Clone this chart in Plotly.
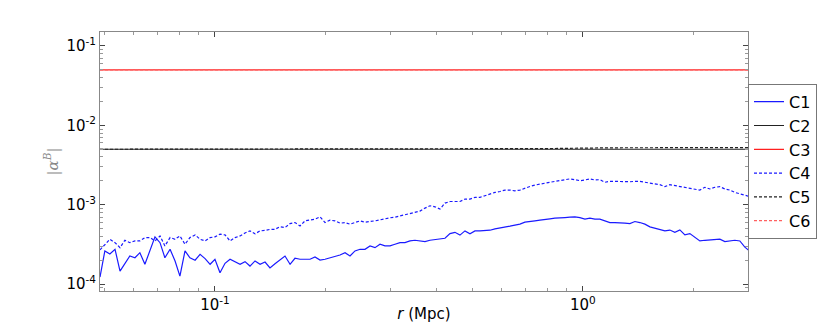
import numpy as np
import plotly.graph_objects as go

# radius grid (Mpc)
R = [0.0487, 0.0502, 0.0518, 0.0535, 0.0552, 0.0569, 0.0587, 0.0606, 0.0625, 0.0645,
     0.0666, 0.0687, 0.0709, 0.0731, 0.0755, 0.0779, 0.0803, 0.0829, 0.0855, 0.0883,
     0.0911, 0.0940, 0.0970, 0.1000, 0.1032, 0.1065, 0.1099, 0.1134, 0.1170, 0.1207,
     0.1245, 0.1285, 0.1326, 0.1368, 0.1411, 0.1456, 0.1502, 0.1550, 0.1600, 0.1650,
     0.1703, 0.1757, 0.1813, 0.1870, 0.1930, 0.1991, 0.2054, 0.2120, 0.2187, 0.2257,
     0.2328, 0.2402, 0.2479, 0.2557, 0.2639, 0.2722, 0.2809, 0.2898, 0.2990, 0.3085,
     0.3183, 0.3284, 0.3389, 0.3496, 0.3607, 0.3722, 0.3840, 0.3962, 0.4088, 0.4218,
     0.4352, 0.4490, 0.4633, 0.4780, 0.4932, 0.5089, 0.5250, 0.5417, 0.5589, 0.5767,
     0.5950, 0.6139, 0.6334, 0.6535, 0.6743, 0.6957, 0.7178, 0.7406, 0.7642, 0.7884,
     0.8135, 0.8393, 0.8660, 0.8935, 0.9219, 0.9512, 0.9814, 1.0126, 1.0448, 1.0780,
     1.1122, 1.1476, 1.1840, 1.2217, 1.2605, 1.3005, 1.3418, 1.3845, 1.4285, 1.4739,
     1.5207, 1.5690, 1.6189, 1.6703, 1.7234, 1.7781, 1.8346, 1.8929, 1.9530, 2.0151,
     2.0791, 2.1452, 2.2133, 2.2837, 2.3562, 2.4311, 2.5083, 2.5880, 2.6703, 2.7551,
     2.843]

# |alpha^B| in units of 1e-3
C1 = [0.123, 0.262, 0.240, 0.275, 0.146, 0.181, 0.226, 0.215, 0.249, 0.178,
      0.262, 0.394, 0.333, 0.215, 0.275, 0.196, 0.126, 0.262, 0.215, 0.200,
      0.237, 0.210, 0.178, 0.206, 0.139, 0.183, 0.206, 0.190, 0.178, 0.192,
      0.169, 0.196, 0.178, 0.190, 0.160, 0.181, 0.200, 0.226, 0.178, 0.212,
      0.206, 0.206, 0.206, 0.220, 0.201, 0.206, 0.215, 0.220, 0.233, 0.249,
      0.226, 0.262, 0.275, 0.275, 0.303, 0.288, 0.318, 0.303, 0.303, 0.318,
      0.333, 0.333, 0.350, 0.357, 0.350, 0.343, 0.357, 0.364, 0.379, 0.379,
      0.433, 0.450, 0.415, 0.469, 0.430, 0.469, 0.469, 0.473, 0.478, 0.497,
      0.507, 0.522, 0.537, 0.553, 0.570, 0.604, 0.622, 0.627, 0.640, 0.659,
      0.665, 0.678, 0.678, 0.690, 0.698, 0.705, 0.690, 0.660, 0.678, 0.659,
      0.659, 0.627, 0.597, 0.597, 0.597, 0.586, 0.580, 0.615, 0.597, 0.570,
      0.527, 0.507, 0.490, 0.469, 0.480, 0.451, 0.483, 0.417, 0.433, 0.385,
      0.350, 0.357, 0.360, 0.368, 0.368, 0.343, 0.350, 0.357, 0.350, 0.293,
      0.260]

C4 = [0.270, 0.318, 0.368, 0.333, 0.288, 0.357, 0.333, 0.350, 0.350, 0.386,
      0.386, 0.350, 0.405, 0.303, 0.386, 0.368, 0.405, 0.318, 0.386, 0.417,
      0.368, 0.350, 0.386, 0.394, 0.426, 0.417, 0.350, 0.386, 0.405, 0.442,
      0.469, 0.430, 0.469, 0.475, 0.490, 0.490, 0.530, 0.516, 0.580, 0.597,
      0.542, 0.627, 0.646, 0.659, 0.705, 0.597, 0.640, 0.627, 0.586, 0.597,
      0.570, 0.604, 0.627, 0.604, 0.610, 0.627, 0.646, 0.670, 0.685, 0.698,
      0.726, 0.754, 0.776, 0.799, 0.832, 0.908, 0.971, 0.943, 0.882, 1.05,
      1.10, 1.10, 1.10, 1.18, 1.18, 1.24, 1.24, 1.30, 1.37, 1.43,
      1.47, 1.53, 1.53, 1.50, 1.53, 1.63, 1.70, 1.77, 1.83, 1.86,
      1.92, 1.97, 2.01, 2.07, 2.12, 2.07, 2.01, 2.05, 2.12, 2.05,
      2.07, 1.92, 1.97, 1.97, 1.95, 1.97, 1.95, 1.97, 1.97, 1.92,
      1.86, 1.83, 1.79, 1.69, 1.79, 1.74, 1.70, 1.66, 1.63, 1.58,
      1.53, 1.66, 1.58, 1.66, 1.69, 1.58, 1.53, 1.43, 1.37, 1.30,
      1.27]
SCALE = 1e-3

# flat reference levels
R_FLAT = [0.0487, 0.5, 0.8, 1.2, 2.843]
C2 = [0.0050, 0.0050, 0.0050, 0.0050, 0.0050]
C3 = [0.050, 0.050, 0.050, 0.050, 0.050]
C5 = [0.0050, 0.00502, 0.0051, 0.00522, 0.00525]
C6 = [0.050, 0.050, 0.050, 0.050, 0.050]

X_TICKS = [0.1, 1.0]
X_TICKTEXT = ["10<sup>-1</sup>", "10<sup>0</sup>"]
Y_TICKS = [1e-4, 1e-3, 1e-2, 1e-1]
Y_TICKTEXT = ["10<sup>-4</sup>", "10<sup>-3</sup>", "10<sup>-2</sup>", "10<sup>-1</sup>"]

BLUE = "#1a1aff"
DASH = "3px,2px"

c1 = np.asarray(C1) * SCALE
c4 = np.asarray(C4) * SCALE

fig = go.Figure()
fig.add_trace(go.Scatter(x=R, y=c1, mode="lines", name="C1",
                         line=dict(color=BLUE, width=1.2)))
fig.add_trace(go.Scatter(x=R_FLAT, y=C2, mode="lines", name="C2",
                         line=dict(color="#222222", width=1.2)))
fig.add_trace(go.Scatter(x=R_FLAT, y=C3, mode="lines", name="C3",
                         line=dict(color="#ff2020", width=1.2)))
fig.add_trace(go.Scatter(x=R, y=c4, mode="lines", name="C4",
                         line=dict(color=BLUE, width=1.2, dash=DASH)))
fig.add_trace(go.Scatter(x=R_FLAT, y=C5, mode="lines", name="C5",
                         line=dict(color="#222222", width=1.2, dash=DASH)))
fig.add_trace(go.Scatter(x=R_FLAT, y=C6, mode="lines", name="C6",
                         line=dict(color="#ff6060", width=1.2, dash=DASH)))

axis_common = dict(
    type="log",
    automargin=False,
    showgrid=False,
    zeroline=False,
    showline=True,
    linecolor="#888888",
    linewidth=1,
    mirror="allticks",
    ticks="inside",
    ticklen=5,
    tickcolor="#444444",
    tickfont=dict(family="DejaVu Sans", size=15, color="black"),
    minor=dict(ticks="inside", ticklen=3, tickcolor="#999999",
               dtick="D1", showgrid=False),
)

fig.update_xaxes(
    **axis_common,
    range=[np.log10(0.0487), np.log10(2.81)],
    tickvals=X_TICKS,
    ticktext=X_TICKTEXT,
    title=dict(text="<i>r</i> (Mpc)", standoff=2,
               font=dict(family="DejaVu Sans", size=15, color="black")),
)
fig.update_yaxes(
    **axis_common,
    range=[np.log10(8.2e-5), np.log10(0.150)],
    tickvals=Y_TICKS,
    ticktext=Y_TICKTEXT,
    title=dict(text="|<i>α</i><sup><i>B</i></sup>|", standoff=4,
               font=dict(family="DejaVu Serif", size=15, color="#888888")),
)

# the page body adds an 8px offset, so the figure is sized to fit inside it
fig.update_layout(
    width=822,
    height=315,
    margin=dict(l=92, r=82, t=24, b=32),
    plot_bgcolor="white",
    paper_bgcolor="white",
    font=dict(family="DejaVu Sans"),
    legend=dict(
        x=1.0, xanchor="left", y=0.80, yanchor="top",
        bordercolor="#777777", borderwidth=1, bgcolor="white",
        font=dict(family="DejaVu Sans", size=16, color="black"),
        itemwidth=30, tracegroupgap=0,
    ),
)

fig.write_html("out.html")
